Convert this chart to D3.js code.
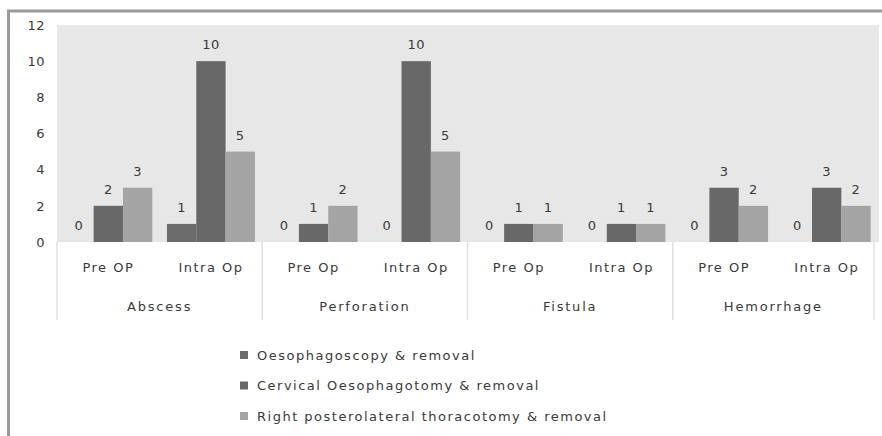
<!DOCTYPE html>
<html><head><meta charset="utf-8">
<script src="https://cdn.jsdelivr.net/npm/d3@7"></script>
<style>
html,body{margin:0;padding:0;background:#fff;}
svg text{font-family:"DejaVu Sans",sans-serif;fill:#3a3a3a;}
</style></head><body>
<svg id="chart" width="882" height="436"></svg>
<script>
// ---- data ----
const groups = ["Abscess", "Perforation", "Fistula", "Hemorrhage"];
const phases = [["Pre OP", "Intra Op"], ["Pre Op", "Intra Op"], ["Pre Op", "Intra Op"], ["Pre OP", "Intra Op"]];
const seriesNames = ["Oesophagoscopy & removal", "Cervical Oesophagotomy & removal", "Right posterolateral thoracotomy & removal"];
const oesophagoscopy = [0, 1, 0, 0, 0, 0, 0, 0];
const cervical = [2, 10, 1, 10, 1, 1, 3, 3];
const thoracotomy = [3, 5, 2, 5, 1, 1, 2, 2];
const yTicks = [0, 2, 4, 6, 8, 10, 12];
const seriesColors = ["#6c6c6c", "#686868", "#a4a4a4"];

(function () {
const allSeries = [oesophagoscopy, cervical, thoracotomy];
const slots = [];
groups.forEach((g, gi) => phases[gi].forEach((p, pi) => slots.push({group: g, gi, phase: p, key: gi + "-" + pi})));

const svg = d3.select("#chart");
const mLeft = 57, mRight = 878, mTop = 25, mBottom = 242;

// frame
svg.append("line").attr("x1", 7).attr("x2", 882).attr("y1", 11).attr("y2", 11).attr("stroke", "#9a9a9a").attr("stroke-width", 3);
svg.append("line").attr("x1", 8.5).attr("x2", 8.5).attr("y1", 10).attr("y2", 436).attr("stroke", "#9a9a9a").attr("stroke-width", 3);

const x = d3.scaleBand().domain(slots.map(s => s.key)).range([mLeft, mRight]);
const xs = d3.scaleBand().domain([0, 1, 2]).range([0, x.bandwidth()]).paddingOuter(0.25).paddingInner(0);
const y = d3.scaleLinear().domain([0, 12]).range([mBottom, mTop]);

// plot background
svg.append("rect").attr("x", mLeft).attr("y", mTop).attr("width", mRight - mLeft + 1).attr("height", mBottom - mTop).attr("fill", "#e7e7e7");

// y axis labels
const yAxis = d3.axisLeft(y).tickValues(yTicks).tickSize(0).tickPadding(0);
const ya = svg.append("g").attr("transform", `translate(${45},0)`).call(yAxis);
ya.select(".domain").remove();
ya.selectAll("text").attr("font-size", 13).attr("letter-spacing", 0.5).style("font-family", "DejaVu Sans, sans-serif").attr("fill", "#3a3a3a");

// bars
allSeries.forEach((vals, si) => {
  const g = svg.append("g");
  slots.forEach((s, i) => {
    const v = vals[i];
    const bx = x(s.key) + xs(si);
    if (v > 0) {
      g.append("rect").attr("x", bx).attr("y", y(v)).attr("width", xs.bandwidth()).attr("height", y(0) - y(v)).attr("fill", seriesColors[si]);
    }
    g.append("text").attr("x", bx + xs.bandwidth() / 2).attr("y", y(v) - 12).attr("text-anchor", "middle")
      .attr("font-size", 13).attr("letter-spacing", 0.5).text(v);
  });
});

// category axis: separators and labels
const groupEdges = groups.map((g, gi) => x(gi + "-0"));
groupEdges.push(mRight - 4);
groupEdges.forEach(ex => {
  svg.append("line").attr("x1", ex).attr("x2", ex).attr("y1", mBottom).attr("y2", 320).attr("stroke", "#e0e0e0").attr("stroke-width", 1.5);
});
slots.forEach(s => {
  svg.append("text").attr("x", x(s.key) + x.bandwidth() / 2).attr("y", 272).attr("text-anchor", "middle")
    .attr("font-size", 13).attr("letter-spacing", 1.5).text(s.phase);
});
groups.forEach((g, gi) => {
  const cx = (groupEdges[gi] + groupEdges[gi + 1]) / 2;
  svg.append("text").attr("x", cx).attr("y", 311).attr("text-anchor", "middle")
    .attr("font-size", 13).attr("letter-spacing", 1.8).text(g);
});

// legend
seriesNames.forEach((n, i) => {
  const ly = 355 + i * 30.5;
  svg.append("rect").attr("x", 240).attr("y", ly - 4).attr("width", 8).attr("height", 8).attr("fill", seriesColors[i]);
  svg.append("text").attr("x", 257).attr("y", ly + 4.5).attr("font-size", 13).attr("letter-spacing", 1.5).text(n);
});
})();
</script>
</body></html>
